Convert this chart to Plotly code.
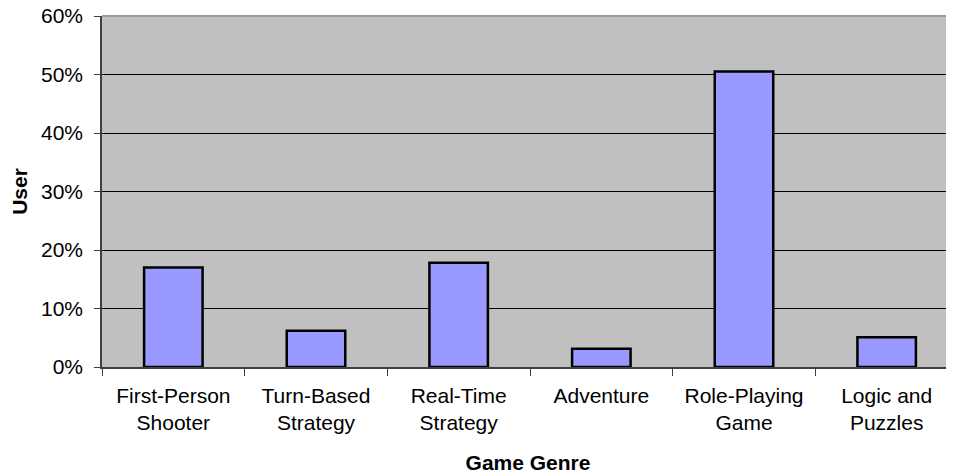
import plotly.graph_objects as go

categories = ["First-Person<br>Shooter", "Turn-Based<br>Strategy", "Real-Time<br>Strategy",
              "Adventure", "Role-Playing<br>Game", "Logic and<br>Puzzles"]
user_share = [0.170, 0.062, 0.178, 0.031, 0.505, 0.051]
y_ticks = [0, 0.1, 0.2, 0.3, 0.4, 0.5, 0.6]

FONT = "Arial, Liberation Sans, sans-serif"

fig = go.Figure(go.Bar(
    x=categories, y=user_share, width=0.41,
    marker=dict(color="#9999FF", line=dict(color="#000000", width=2.5)),
))

# page body has an 8px default margin, so the figure is sized to fit the window
fig.update_layout(
    width=946, height=468,
    margin=dict(l=94, r=0, t=8, b=109),
    paper_bgcolor="white", plot_bgcolor="#C0C0C0",
    font=dict(family=FONT, size=21, color="#000000"),
    showlegend=False,
    shapes=[dict(type="line", xref="paper", yref="paper", x0=0, x1=1, y0=1, y1=1,
                 line=dict(color="#9A9A9A", width=2), layer="above")],
)
fig.update_xaxes(
    type="category", range=[-0.5, 5.472], automargin=False,
    tickson="boundaries", ticks="outside", ticklen=7, tickcolor="#404040",
    ticklabelstandoff=9, ticklabeloverflow="allow",
    showline=True, linecolor="#404040", linewidth=1.5,
    showgrid=False,
    title=dict(text="<b>Game Genre</b>", font=dict(size=21), standoff=22),
)
fig.update_yaxes(
    range=[0, 0.6], tickvals=y_ticks, tickformat=".0%", automargin=False,
    ticks="outside", ticklen=6, tickcolor="#404040",
    ticklabelstandoff=7, ticklabeloverflow="allow",
    showline=True, linecolor="#404040", linewidth=1.5,
    showgrid=True, gridcolor="#000000", gridwidth=1,
    zeroline=False,
    title=dict(text="<b>User</b>", font=dict(size=21), standoff=12),
)

fig.write_html("out.html")
